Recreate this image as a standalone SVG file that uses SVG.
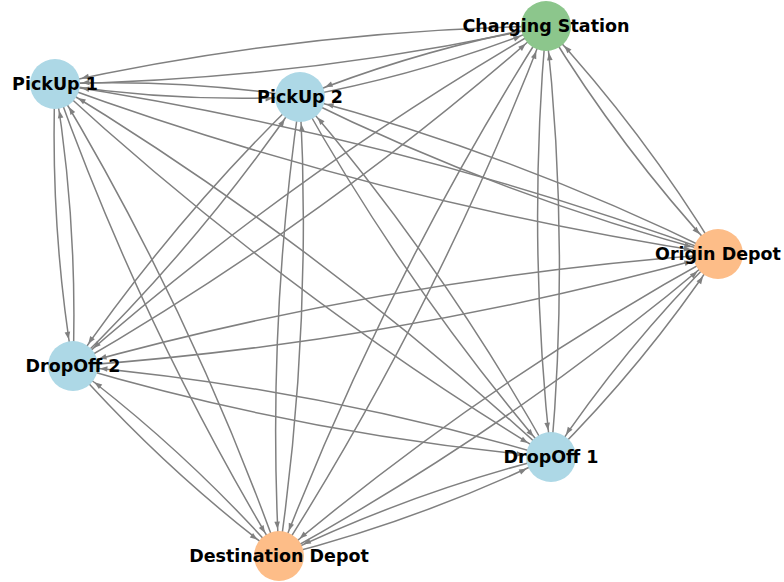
<svg xmlns="http://www.w3.org/2000/svg" width="784" height="582" viewBox="0 0 784 582">
<defs>
<style>
.e{fill:none;stroke:#808080;stroke-width:1.5;marker-end:url(#ah)}
.n{stroke:none}
.b{fill:#add8e6}
.g{fill:#8cc68c}
.o{fill:#fdbd88}
.t{font-family:"DejaVu Sans","Liberation Sans",sans-serif;font-weight:bold;font-size:17.5px;fill:#000;text-anchor:middle}
</style>
<marker id="ah" markerUnits="userSpaceOnUse" orient="auto" markerWidth="10" markerHeight="6" refX="34.5" refY="3" overflow="visible">
<path d="M0,0.2 L7.5,3 L0,5.8 z" fill="#808080"/>
</marker>
</defs>
<rect width="784" height="582" fill="#fff"/>
<g id="edges">
<path class="e" d="M546,26 Q297.6,30.45 55,84"/>
<path class="e" d="M55,84 Q303.4,79.55 546,26"/>
<path class="e" d="M546,26 Q419.45,49.2 300,97"/>
<path class="e" d="M300,97 Q426.55,73.8 546,26"/>
<path class="e" d="M546,26 Q620.6,148.6 718,254"/>
<path class="e" d="M718,254 Q643.4,131.4 546,26"/>
<path class="e" d="M546,26 Q292.5,172.35 73,366"/>
<path class="e" d="M73,366 Q326.5,219.65 546,26"/>
<path class="e" d="M546,26 Q526.95,241.75 551,457"/>
<path class="e" d="M551,457 Q570.05,241.25 546,26"/>
<path class="e" d="M546,26 Q386,277.65 279,556"/>
<path class="e" d="M279,556 Q439,304.35 546,26"/>
<path class="e" d="M55,84 Q176.85,102.75 300,97"/>
<path class="e" d="M300,97 Q178.15,78.25 55,84"/>
<path class="e" d="M55,84 Q378,202.15 718,254"/>
<path class="e" d="M718,254 Q395,135.85 55,84"/>
<path class="e" d="M55,84 Q49.9,225.9 73,366"/>
<path class="e" d="M73,366 Q78.1,224.1 55,84"/>
<path class="e" d="M55,84 Q284.35,295.3 551,457"/>
<path class="e" d="M551,457 Q321.65,245.7 55,84"/>
<path class="e" d="M55,84 Q143.4,331.2 279,556"/>
<path class="e" d="M279,556 Q190.6,308.8 55,84"/>
<path class="e" d="M300,97 Q501.15,196.4 718,254"/>
<path class="e" d="M718,254 Q516.85,154.6 300,97"/>
<path class="e" d="M300,97 Q173.05,220.15 73,366"/>
<path class="e" d="M73,366 Q199.95,242.85 300,97"/>
<path class="e" d="M300,97 Q407.5,289.55 551,457"/>
<path class="e" d="M551,457 Q443.5,264.45 300,97"/>
<path class="e" d="M300,97 Q266.55,325.45 279,556"/>
<path class="e" d="M279,556 Q312.45,327.55 300,97"/>
<path class="e" d="M718,254 Q389.9,277.75 73,366"/>
<path class="e" d="M73,366 Q401.1,342.25 718,254"/>
<path class="e" d="M718,254 Q624.35,347.15 551,457"/>
<path class="e" d="M551,457 Q644.65,363.85 718,254"/>
<path class="e" d="M718,254 Q483.4,383.05 279,556"/>
<path class="e" d="M279,556 Q513.6,426.95 718,254"/>
<path class="e" d="M73,366 Q307.45,435.4 551,457"/>
<path class="e" d="M551,457 Q316.55,387.6 73,366"/>
<path class="e" d="M73,366 Q166.5,471.3 279,556"/>
<path class="e" d="M279,556 Q185.5,450.7 73,366"/>
<path class="e" d="M551,457 Q410.05,492.9 279,556"/>
<path class="e" d="M279,556 Q419.95,520.1 551,457"/>
</g>
<g id="node-charging-station"><circle class="n g" cx="546" cy="26" r="25"/><text class="t" x="546" y="32">Charging Station</text></g>
<g id="node-pickup-1"><circle class="n b" cx="55" cy="84" r="25"/><text class="t" x="55" y="90">PickUp 1</text></g>
<g id="node-pickup-2"><circle class="n b" cx="300" cy="97" r="25"/><text class="t" x="300" y="103">PickUp 2</text></g>
<g id="node-origin-depot"><circle class="n o" cx="718" cy="254" r="25"/><text class="t" x="718" y="260">Origin Depot</text></g>
<g id="node-dropoff-2"><circle class="n b" cx="73" cy="366" r="25"/><text class="t" x="73" y="372">DropOff 2</text></g>
<g id="node-dropoff-1"><circle class="n b" cx="551" cy="457" r="25"/><text class="t" x="551" y="463">DropOff 1</text></g>
<g id="node-destination-depot"><circle class="n o" cx="279" cy="556" r="25"/><text class="t" x="279" y="562">Destination Depot</text></g>
</svg>
